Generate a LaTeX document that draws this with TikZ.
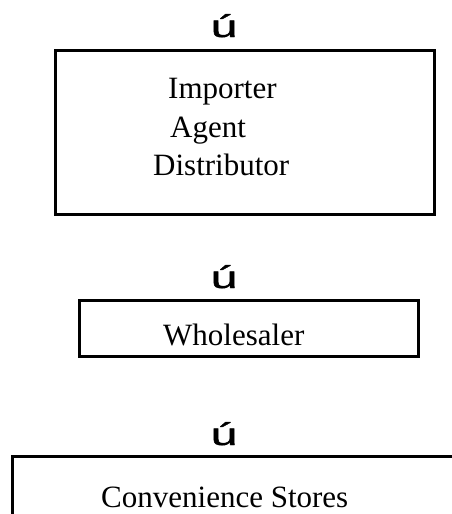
\documentclass[tikz,border=0pt]{standalone}
\usepackage{fontspec}
\setmainfont{Liberation Serif}
\newfontfamily\arrowfont[FakeBold=1.2]{Liberation Sans}
\newcommand{\widemark}{\scalebox{1.55}[1]{ú}}
\begin{document}
\begin{tikzpicture}[x=1pt,y=1pt,
  boxline/.style={line width=3pt},
  lbl/.style={inner sep=0pt,anchor=base west,font=\fontsize{31}{36}\selectfont},
  arr/.style={inner sep=0pt,anchor=base,font=\arrowfont\fontsize{31}{36}\selectfont}]
\useasboundingbox (0,0) rectangle (451,-514);
% arrows (rendered as glyphs)
\node[arr] (a1) at (224,-37) {\widemark};
\node[arr] (a2) at (224,-288) {\widemark};
\node[arr] (a3) at (224,-445) {\widemark};
% box 1
\draw[boxline] (55,-50) rectangle (434,-214);
\node[lbl] (t1) at (168,-98) {Importer};
\node[lbl] (t2) at (170,-137) {Agent};
\node[lbl] (t3) at (153,-175) {Distributor};
% box 2
\draw[boxline] (79,-300) rectangle (418,-356);
\node[lbl] (t4) at (163,-345) {Wholesaler};
% box 3 (cut off)
\coordinate (c1) at (12,-516);
\coordinate (c2) at (12,-456);
\coordinate (c3) at (453,-456);
\draw[boxline] (c1) -- (c2) -- (c3);
\node[lbl] (t5) at (101,-507) {Convenience Stores};
\end{tikzpicture}
\end{document}
